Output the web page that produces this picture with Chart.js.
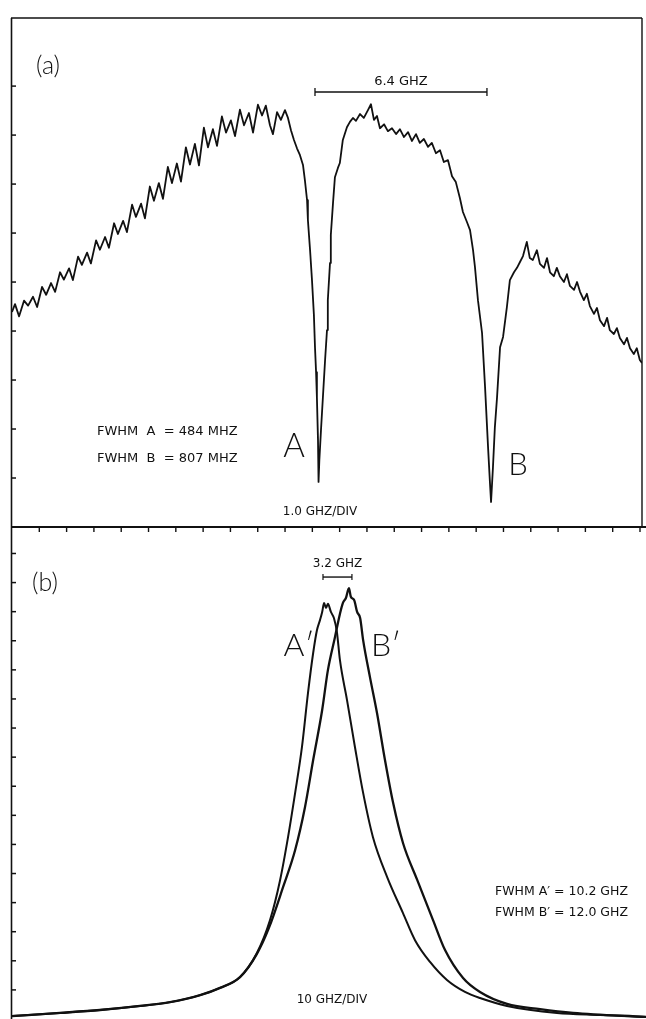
<!DOCTYPE html>
<html>
<head>
<meta charset="utf-8">
<script src="https://cdn.jsdelivr.net/npm/chart.js@4/dist/chart.umd.min.js"></script>
<style>
  html, body { margin:0; padding:0; background:#fff; }
  body { width:646px; height:1019px; position:relative; overflow:hidden; }
  #wrapA { position:absolute; left:0; top:0; width:646px; height:530px; }
  #wrapB { position:absolute; left:0; top:527px; width:646px; height:492px; }
</style>
</head>
<body>
<div id="wrapA"><canvas id="chartA"></canvas></div>
<div id="wrapB"><canvas id="chartB"></canvas></div>
<script>
// ---- panel (a): absorption trace, 1.0 GHz / div ----
const aFreq = [0,0.11,0.26,0.44,0.59,0.77,0.92,1.10,1.25,1.43,1.58,1.76,1.90,2.09,2.23,2.42,2.56,2.75,2.89,3.08,
  3.22,3.41,3.55,3.74,3.88,4.07,4.21,4.40,4.54,4.73,4.87,5.05,5.20,5.38,5.53,5.71,5.86,6.04,6.19,6.37,
  6.52,6.70,6.85,7.03,7.18,7.36,7.51,7.69,7.84,8.02,8.17,8.35,8.50,8.68,8.83,9.01,9.16,9.30,9.45,9.56,
  9.71,9.85,10.00,10.11,10.22,10.33,10.44,10.55,10.66,10.73,10.81,10.84,10.92,10.99,11.06,11.10,11.14,11.17,11.21,11.23,
  11.26,11.32,11.39,11.47,11.54,11.57,11.65,11.68,11.76,11.83,11.94,12.01,12.12,12.27,12.38,12.49,12.60,12.75,12.89,13.04,
  13.15,13.26,13.37,13.48,13.63,13.77,13.92,14.07,14.21,14.36,14.51,14.65,14.80,14.94,15.09,15.24,15.38,15.53,15.68,15.82,
  15.97,16.12,16.26,16.41,16.52,16.67,16.78,16.89,16.96,17.07,17.22,17.33,17.44,17.51,17.55,17.62,17.69,17.77,17.88,17.99,
  18.13,18.24,18.39,18.50,18.61,18.72,18.86,18.97,19.08,19.23,19.34,19.49,19.60,19.71,19.85,19.96,20.07,20.22,20.33,20.44,
  20.59,20.70,20.81,20.95,21.06,21.17,21.32,21.43,21.54,21.69,21.80,21.90,22.05,22.16,22.27,22.42,22.53,22.64,22.78,22.89,
  23.00,23.08];
const aSignal = [4.39,4.55,4.30,4.62,4.52,4.70,4.49,4.90,4.74,4.98,4.80,5.20,5.05,5.28,5.04,5.52,5.35,5.60,5.38,5.85,
  5.66,5.92,5.70,6.20,5.98,6.25,6.02,6.58,6.33,6.60,6.30,6.95,6.66,7.02,6.70,7.35,7.02,7.42,7.05,7.75,
  7.40,7.82,7.38,8.15,7.75,8.12,7.78,8.38,8.05,8.30,7.98,8.52,8.20,8.45,8.05,8.62,8.40,8.60,8.20,8.02,
  8.47,8.31,8.51,8.35,8.10,7.90,7.73,7.59,7.39,7.08,6.67,6.27,5.65,5.04,4.33,3.67,3.16,2.65,1.78,0.92,
  1.37,1.98,2.65,3.41,4.02,4.63,5.39,5.96,6.61,7.14,7.33,7.43,7.90,8.16,8.27,8.35,8.29,8.43,8.35,8.51,
  8.63,8.31,8.39,8.14,8.22,8.08,8.14,8.02,8.12,7.96,8.06,7.88,8.02,7.84,7.92,7.76,7.84,7.63,7.69,7.45,
  7.49,7.16,7.04,6.71,6.43,6.22,6.06,5.65,5.31,4.63,3.96,2.86,1.63,0.90,0.51,1.22,2.04,2.65,3.67,3.88,
  4.49,5.04,5.20,5.29,5.41,5.53,5.82,5.49,5.45,5.65,5.37,5.29,5.49,5.20,5.12,5.29,5.12,5.00,5.16,4.92,
  4.84,5.00,4.80,4.63,4.76,4.51,4.35,4.47,4.22,4.10,4.27,4.02,3.94,4.06,3.86,3.73,3.86,3.65,3.53,3.65,
  3.41,3.35];
const aTicksY = [1,2,3,4,5,6,7,8,9];

// ---- panel (b): emission peaks A' and B', 10 GHz / div ----
const peakAFreq = [0,17.6,32.2,46.9,57.9,68.9,76.2,83.5,89.7,94.5,98.2,101.1,103.7,106.2,108.4,110.3,111.7,112.8,113.6,114.3,
  115.0,115.7,116.8,117.9,119.0,120.1,122.7,125.6,128.6,132.2,137.4,143.2,147.6,153.1,159.3,165.9,171.4,181.3,199.6,215.4,232.2];
const peakASignal = [0.10,0.21,0.31,0.45,0.58,0.82,1.07,1.44,2.27,3.40,4.78,6.25,7.77,9.35,11.20,12.58,13.37,13.71,13.99,14.30,
  14.13,14.27,13.99,13.78,13.30,12.34,10.96,9.35,7.77,6.25,4.88,3.64,2.71,1.96,1.34,0.93,0.72,0.45,0.21,0.14,0.07];
const peakBFreq = [0,17.6,32.2,46.9,57.9,68.9,76.2,83.5,89.7,94.1,99.3,103.7,107.3,110.3,113.6,115.7,118.3,120.1,121.2,122.3,
  123.4,124.1,125.3,126.4,127.5,128.6,131.1,133.7,136.6,139.6,143.2,148.4,154.2,158.6,165.2,171.4,181.3,193.4,205.5,232.2];
const peakBSignal = [0.10,0.21,0.31,0.45,0.58,0.82,1.07,1.44,2.24,3.13,4.54,5.81,7.28,8.90,10.62,11.99,13.13,13.92,14.30,14.47,
  14.81,14.51,14.40,13.99,13.78,13.02,11.75,10.51,8.90,7.42,6.05,4.78,3.40,2.37,1.41,0.93,0.52,0.34,0.21,0.07];
const bTicksY = [1,2,3,4,5,6,7,8,9,10,11,12,13,14,15,16];
const bTicksX = [10,20,30,40,50,60,70,80,90,100,110,120,130,140,150,160,170,180,190,200,210,220,230];

const INK = '#111';
const FONT = '"DejaVu Sans", "Liberation Sans", sans-serif';
const THIN = 'Lato, "DejaVu Sans", sans-serif';

function pts(xs, ys){ return xs.map((x,i)=>({x, y:ys[i]})); }

function line(ctx, x1, y1, x2, y2, w){
  ctx.beginPath(); ctx.lineWidth = w; ctx.moveTo(x1,y1); ctx.lineTo(x2,y2); ctx.stroke();
}

function txt(ctx, s, x, y, font, align){
  ctx.font = font; ctx.textAlign = align || 'center'; ctx.textBaseline = 'middle';
  ctx.fillText(s, x, y);
}

// frame, ticks and labels of panel (a)
const frameA = {
  id:'frameA',
  afterDraw(chart){
    const {ctx, chartArea:ca, scales:{x, y}} = chart;
    ctx.save();
    ctx.strokeStyle = INK; ctx.fillStyle = INK;
    line(ctx, ca.left-0.5, ca.top, ca.left-0.5, ca.bottom, 1.6);
    line(ctx, ca.left-1, ca.top, ca.right, ca.top, 1.6);
    line(ctx, ca.right, ca.top, ca.right, ca.bottom, 1.4);
    line(ctx, ca.left-1, ca.bottom, chart.width, ca.bottom, 1.8);
    aTicksY.forEach(v => { const py = y.getPixelForValue(v); line(ctx, ca.left-1, py, ca.left+4, py, 1.5); });

    // 6.4 GHz separation bar
    const x1 = x.getPixelForValue(11.10), x2 = x.getPixelForValue(17.40), by = y.getPixelForValue(8.88);
    line(ctx, x1, by, x2, by, 1.5);
    line(ctx, x1, by-4, x1, by+4, 1.3);
    line(ctx, x2, by-4, x2, by+4, 1.3);
    txt(ctx, '6.4 GHZ', (x1+x2)/2, by-10, '13px '+FONT);

    txt(ctx, '(a)', 36, 66, '300 25px '+THIN, 'left');
    txt(ctx, 'FWHM  A  = 484 MHZ', 97, 432, '13px '+FONT, 'left');
    txt(ctx, 'FWHM  B  = 807 MHZ', 97, 459, '13px '+FONT, 'left');
    txt(ctx, 'A', 294, 446, '300 33px '+THIN);
    txt(ctx, 'B', 518, 465, '300 31px '+THIN);
    txt(ctx, '1.0 GHZ/DIV', 320, 512, '12px '+FONT);
    ctx.restore();
  }
};

// frame, ticks and labels of panel (b)
const frameB = {
  id:'frameB',
  afterDraw(chart){
    const {ctx, chartArea:ca, scales:{x, y}} = chart;
    ctx.save();
    ctx.strokeStyle = INK; ctx.fillStyle = INK;
    line(ctx, ca.left-0.5, 0, ca.left-0.5, ca.bottom, 1.6);
    bTicksY.forEach(v => { const py = y.getPixelForValue(v); line(ctx, ca.left-1, py, ca.left+4, py, 1.5); });
    bTicksX.forEach(v => { const px = x.getPixelForValue(v); line(ctx, px, 0, px, 5, 1.4); });

    // 3.2 GHz separation bar
    const x1 = x.getPixelForValue(113.9), x2 = x.getPixelForValue(124.5), by = y.getPixelForValue(15.19);
    line(ctx, x1, by, x2, by, 1.4);
    line(ctx, x1, by-3, x1, by+3, 1.2);
    line(ctx, x2, by-3, x2, by+3, 1.2);
    txt(ctx, '3.2 GHZ', (x1+x2)/2, by-13, '12px '+FONT);

    txt(ctx, '(b)', 32, 56, '300 25px '+THIN, 'left');
    txt(ctx, 'A\u2032', 299, 119, '300 32px '+THIN);
    txt(ctx, 'B\u2032', 386, 119, '300 32px '+THIN);
    txt(ctx, 'FWHM A\u2032 = 10.2 GHZ', 495, 365, '12.5px '+FONT, 'left');
    txt(ctx, 'FWHM B\u2032 = 12.0 GHZ', 495, 386, '12.5px '+FONT, 'left');
    txt(ctx, '10 GHZ/DIV', 332, 473, '12px '+FONT);
    ctx.restore();
  }
};

const common = {
  responsive:true,
  maintainAspectRatio:false,
  animation:false,
  events:[],
  plugins:{ legend:{display:false}, tooltip:{enabled:false} },
  elements:{ point:{ radius:0 }, line:{ tension:0 } }
};

new Chart(document.getElementById('chartA'), {
  type:'line',
  data:{ datasets:[{ data:pts(aFreq, aSignal), borderColor:INK, borderWidth:1.8, fill:false, borderJoinStyle:'round' }] },
  options:{
    ...common,
    layout:{ padding:{ left:12, top:18, right:4, bottom:3 } },
    scales:{
      x:{ type:'linear', min:0, max:23.08, display:false },
      y:{ type:'linear', min:0, max:10.39, display:false }
    }
  },
  plugins:[frameA]
});

new Chart(document.getElementById('chartB'), {
  type:'line',
  data:{ datasets:[
    { data:pts(peakAFreq, peakASignal), borderColor:INK, borderWidth:2, fill:false, cubicInterpolationMode:'monotone' },
    { data:pts(peakBFreq, peakBSignal), borderColor:INK, borderWidth:2.3, fill:false, cubicInterpolationMode:'monotone' }
  ] },
  options:{
    ...common,
    layout:{ padding:{ left:12, top:0, right:0, bottom:0 } },
    scales:{
      x:{ type:'linear', min:0, max:232.2, display:false },
      y:{ type:'linear', min:0, max:16.91, display:false }
    }
  },
  plugins:[frameB]
});
</script>
</body>
</html>
